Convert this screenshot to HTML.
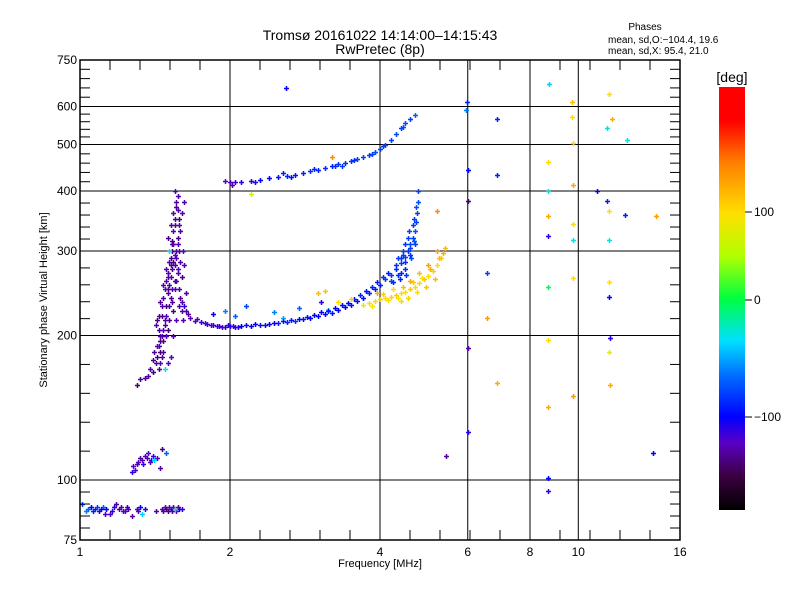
<!DOCTYPE html>
<html><head><meta charset="utf-8"><style>
body{margin:0;background:#fff;}
svg{display:block;font-family:"Liberation Sans",sans-serif;}
</style></head><body>
<svg id="chart" width="800" height="600" viewBox="0 0 800 600" xmlns="http://www.w3.org/2000/svg">
<defs><linearGradient id="cb" x1="0" y1="1" x2="0" y2="0">
<stop offset="0" stop-color="#000000"/><stop offset="0.08" stop-color="#3c0040"/><stop offset="0.16" stop-color="#5a00c8"/><stop offset="0.22" stop-color="#0000ff"/><stop offset="0.32" stop-color="#0070ff"/><stop offset="0.40" stop-color="#00e0ff"/><stop offset="0.50" stop-color="#00ff40"/><stop offset="0.60" stop-color="#b0ff00"/><stop offset="0.70" stop-color="#ffe000"/><stop offset="0.82" stop-color="#ff8000"/><stop offset="0.92" stop-color="#ff0000"/><stop offset="1" stop-color="#ff0000"/>
</linearGradient></defs>
<g id="grid"></g>
<g id="marks"></g>
<rect x="80" y="60" width="600" height="480" fill="none" stroke="#000" stroke-width="1.5"/>
<g id="axes"></g>
<text x="380" y="40" text-anchor="middle" font-size="14">Tromsø 20161022 14:14:00–14:15:43</text>
<text x="380" y="54" text-anchor="middle" font-size="14">RwPretec (8p)</text>
<text x="645" y="30" text-anchor="middle" font-size="10">Phases</text>
<text x="608" y="43" font-size="10">mean, sd,O:−104.4, 19.6</text>
<text x="608" y="54" font-size="10">mean, sd,X:  95.4, 21.0</text>
<text x="380" y="567" text-anchor="middle" font-size="11">Frequency [MHz]</text>
<text transform="translate(47,300) rotate(-90)" text-anchor="middle" font-size="11">Stationary phase Virtual Height [km]</text>
<rect x="719" y="87" width="26" height="423" fill="url(#cb)"/>
<text x="732" y="82" text-anchor="middle" font-size="14">[deg]</text>
<g id="cbl"></g>
</svg>
<script>
const xTickLabels=[1,2,4,6,8,10,16];
const yTickLabels=[75,100,200,300,400,500,600,750];
const cbTicks=[100,0,-100];
// E layer
const eFreq=[1.01,1.03,1.05,1.07,1.09,1.11,1.13,1.15,1.17,1.2,1.22,1.24,1.27,1.3,1.32,1.35,1.42,1.46,1.48,1.5,1.52,1.54,1.56,1.58,1.6,1.04,1.06,1.08,1.1,1.12,1.16,1.18,1.21,1.23,1.25,1.31,1.33,1.47,1.49,1.51,1.53,1.55,1.57];
const eHeight=[89,86,88,87,86,88,87,85,88,87,86,88,84,87,88,87,86,87,88,86,87,88,86,87,87,87,86,88,87,85,86,89,88,86,87,86,85,86,87,88,86,87,88];
const ePhase=[-80,-60,-100,-90,-110,-70,-100,-120,-110,-130,-120,-110,-130,-120,-100,-110,-130,-130,-120,-140,-110,-130,-120,-100,-110,-70,-90,-80,-100,-120,-110,-130,-125,-120,-130,-125,-40,-130,-135,-125,-130,-20,-130];
// sporadic E
const esFreq=[1.27,1.28,1.3,1.31,1.33,1.34,1.36,1.37,1.39,1.4,1.43,1.45,1.46,1.49,1.29,1.32,1.35,1.38,1.41];
const esHeight=[104,107,108,109,110,108,111,114,110,112,111,106,116,114,105,111,112,109,110];
const esPhase=[-110,-120,-130,-125,-120,-110,-130,-120,-110,-110,-120,-130,-140,-70,-120,-130,-125,-120,-40];
// low cusp
const cFreq=[1.3,1.32,1.35,1.37,1.4,1.42,1.43,1.44,1.45,1.46,1.47,1.48,1.49,1.5,1.51,1.52,1.53,1.54,1.55,1.55,1.56,1.57,1.58,1.6,1.62,1.47,1.5,1.52,1.53,1.54,1.55,1.56,1.57,1.52,1.54,1.56,1.58,1.5,1.48,1.45,1.49,1.51,1.53,1.55,1.57,1.46,1.44,1.5];
const cHeight=[158,162,163,165,168,175,180,190,185,200,195,210,220,205,230,240,250,225,260,280,300,320,340,360,380,240,270,290,310,330,350,370,390,180,200,215,230,250,170,200,260,285,300,340,365,220,205,175];
const cPhase=[-140,-130,-135,-130,-140,-130,-135,-130,-140,-130,-135,-130,-120,-140,-130,-130,-125,-135,-130,-130,-125,-135,-130,-130,-130,-130,-130,-135,-130,-125,-130,-135,-130,-120,-130,-125,-130,-135,-30,-130,-125,-130,-135,-130,-125,-135,-130,-120];
const c2Freq=[1.38,1.4,1.41,1.43,1.44,1.45,1.46,1.47,1.48,1.49,1.5,1.51,1.52,1.53,1.54,1.55,1.56,1.57,1.58,1.59,1.6,1.61,1.62,1.63,1.42,1.44,1.46,1.48,1.5,1.52,1.54,1.56,1.58,1.6,1.62,1.45,1.47,1.49,1.51,1.53,1.55,1.57,1.59,1.61,1.5,1.52,1.54,1.56,1.58,1.55,1.57,1.59,1.53,1.51,1.49,1.47,1.45,1.43];
const c2Height=[170,178,185,190,170,195,180,205,215,230,245,255,265,275,285,295,260,275,250,240,225,215,230,245,210,220,230,250,265,280,310,290,300,265,280,175,185,200,215,235,250,270,285,300,320,340,360,380,350,400,310,330,315,300,275,255,235,215];
const c2Phase=[-130,-135,-130,-125,-130,-135,-130,-125,-130,-135,-130,-130,-125,-130,-135,-120,-130,-125,-130,-135,-130,-125,-110,-130,-130,-135,-130,-125,-130,-135,-130,-125,-130,-135,-130,-125,-130,-120,-135,-130,-125,-130,-130,-120,-135,-130,-125,-130,-135,-130,-125,-130,-135,-30,-130,-125,-130,-135];
// F1 O-mode
const oFreq=[1.6,1.63,1.66,1.7,1.75,1.8,1.85,1.9,1.95,2.0,2.05,2.1,2.2,2.3,2.4,2.5,2.6,2.7,2.8,2.9,3.0,3.1,3.2,3.3,3.4,3.5,3.6,3.7,3.8,3.9,4.0,4.1,4.2,4.3,4.4,4.5,4.55,4.6,4.65,4.7,4.72,4.75,4.76,4.77,4.4,4.5,4.6,1.85,1.95,2.05,2.15,2.45,2.75,3.05,3.15,2.55,4.25,4.35,4.45,4.62,4.68];
const oHeight=[235,225,218,214,213,211,210,209,208,209,208,209,209,210,211,212,213,214,216,218,220,222,223,226,229,232,236,240,245,250,255,262,268,275,283,292,300,310,320,330,345,360,380,400,270,285,305,222,225,220,230,224,228,235,226,218,258,268,295,290,315];
const oPhase=[-130,-130,-125,-120,-110,-115,-110,-110,-110,-105,-110,-100,-100,-95,-100,-90,-90,-85,-95,-100,-100,-100,-95,-100,-100,-95,-95,-95,-90,-90,-90,-80,-80,-85,-80,-80,-85,-80,-80,-75,-80,-80,-75,-80,-90,-85,-80,-100,-60,-70,-80,-60,-70,-110,-60,-50,-90,-85,-80,-75,-70];
const o2Freq=[1.65,1.72,1.78,1.83,1.88,1.93,1.98,2.03,2.08,2.15,2.25,2.35,2.45,2.55,2.65,2.75,2.85,2.95,3.05,3.15,3.25,3.35,3.45,3.55,3.65,3.75,3.85,3.95,4.05,4.15,4.2,4.3,4.35,4.4,4.45,4.5,4.55,4.6,4.65,4.7,4.48,4.58,4.68,4.73,4.38,4.52];
const o2Height=[222,216,212,210,209,208,210,209,208,210,211,210,212,214,215,217,219,221,224,225,228,231,234,238,243,248,252,258,265,270,260,280,290,290,300,275,320,295,340,310,310,330,350,370,262,268];
const o2Phase=[-130,-125,-120,-125,-115,-120,-110,-115,-110,-105,-100,-105,-100,-95,-95,-100,-95,-100,-100,-95,-100,-95,-100,-95,-90,-95,-90,-90,-85,-90,-80,-85,-80,-85,-80,-85,-80,-85,-80,-80,-85,-80,-80,-75,-90,-85];
// X-mode
const xFreq=[3.3,3.5,3.7,3.8,3.9,4.0,4.1,4.2,4.3,4.4,4.5,4.6,4.7,4.8,4.9,5.0,5.1,5.2,5.3,5.35,5.4,4.6,4.8,5.0,5.2,3.1,3.0,4.4,4.55,4.75,4.95,5.15,3.95,4.25,4.35,4.45,4.65,4.85,5.05,5.25,4.15,4.05,3.85];
const xHeight=[235,238,232,234,236,238,240,241,243,245,247,250,253,257,262,266,272,280,290,297,305,260,270,280,300,248,245,236,240,246,252,262,245,250,240,252,258,264,275,290,237,244,230];
const xPhase=[100,110,90,95,100,110,100,105,110,100,95,110,100,105,120,100,110,100,110,130,120,130,120,135,140,115,120,105,110,100,115,120,130,100,95,120,110,100,130,120,100,110,90];
// F2 upper
const fFreq=[1.95,2.0,2.05,2.1,2.2,2.3,2.4,2.5,2.6,2.7,2.8,2.9,3.0,3.1,3.2,3.3,3.4,3.5,3.6,3.7,3.8,3.9,4.0,4.1,4.2,4.3,4.4,4.5,4.6,4.7,2.02,2.55,3.35,2.25,2.65,2.95,3.25,3.55,3.85,4.05,4.45];
const fHeight=[420,418,417,417,420,422,425,428,430,433,437,440,442,446,450,455,458,462,466,470,476,482,490,500,510,525,540,555,565,575,412,436,452,418,428,444,452,464,478,496,545];
const fPhase=[-120,-125,-115,-110,-110,-100,-100,-95,-90,-95,-90,-85,-90,-85,-90,-85,-85,-85,-80,-80,-80,-75,-80,-75,-80,-75,-80,-75,-80,-70,-130,-90,-80,-110,-95,-90,-85,-85,-80,-80,-75];
// scattered
const sFreq=[2.59,5.98,5.95,6.87,8.72,9.7,9.7,11.5,11.7,11.4,12.5,8.7,8.7,8.7,8.7,8.7,8.7,8.7,8.7,8.7,6.0,6.0,6.0,6.0,5.43,6.87,6.56,6.56,6.87,9.75,9.75,9.75,9.75,9.75,9.75,10.9,11.4,11.5,11.5,11.5,11.6,11.5,11.6,12.4,14.3,14.1,11.5,5.2,2.2,3.2];
const sHeight=[655,613,590,566,669,613,570,636,565,540,510,460,401,355,323,252,196,142,101,95,443,382,188,126,112,432,270,218,159,503,411,341,317,263,150,401,382,317,258,241,198,185,158,357,355,114,364,364,395,470];
const sPhase=[-100,-90,-60,-90,-40,120,100,100,130,-30,-30,100,-30,130,-110,0,100,130,-100,-110,-100,-140,-130,-110,-130,-90,-80,140,130,100,130,100,-30,100,140,-100,-90,-30,100,-100,-110,80,130,-90,140,-100,100,150,60,150];

const XL=80,XR=680,YT=60,YB=540;
const xs=f=>XL+(XR-XL)*Math.log(f)/Math.log(16);
const ys=h=>YB-(YB-YT)*Math.log(h/75)/Math.log(10);
const NS='http://www.w3.org/2000/svg';
function mk(tag,attrs,parent){const e=document.createElementNS(NS,tag);for(const k in attrs)e.setAttribute(k,attrs[k]);parent.appendChild(e);return e;}
const grid=document.getElementById('grid'),axes=document.getElementById('axes'),marks=document.getElementById('marks'),cbl=document.getElementById('cbl');
[2,4,6,8,10].forEach(v=>{const l=mk('line',{x1:xs(v),x2:xs(v),y1:YT,y2:YB,stroke:'#000','stroke-width':1},grid);

});
[100,200,300,400,500,600].forEach(v=>{const l=mk('line',{x1:XL,x2:XR,y1:ys(v),y2:ys(v),stroke:'#000','stroke-width':1},grid);

});
[1,2,4,8].forEach(a=>{for(let k=1;k<5;k++){const x=xs(a)+(xs(a*2)-xs(a))*k/5;
[[YB,YB-10],[YT,YT+10]].forEach(p=>{const t=mk('line',{x1:x,x2:x,y1:p[0],y2:p[1],stroke:'#000'},axes);

});}});
xTickLabels.forEach(v=>{const t=mk('text',{x:xs(v),y:YB+16,'text-anchor':'middle','font-size':12},axes);t.textContent=v;

});
for(let i=0;i<yTickLabels.length-1;i++){const y0=ys(yTickLabels[i]),y1=ys(yTickLabels[i+1]);for(let k=1;k<5;k++){const y=y0+(y1-y0)*k/5;
[[XL,XL+10],[XR,XR-10]].forEach(p=>{const t=mk('line',{x1:p[0],x2:p[1],y1:y,y2:y,stroke:'#000'},axes);

});}}
yTickLabels.forEach(v=>{const t=mk('text',{x:XL-3,y:ys(v)+4,'text-anchor':'end','font-size':12},axes);t.textContent=v;

});
const cbY=p=>p>=0?300-0.88*p:300-1.17*p;
cbTicks.forEach(v=>{const y=cbY(v);const l=mk('line',{x1:745,x2:752,y1:y,y2:y,stroke:'#000'},cbl);


const t=mk('text',{x:754,y:y+4,'font-size':12},cbl);t.textContent=v<0?'−'+(-v):v;

});
const stops=[[0,[0,0,0]],[0.08,[60,0,64]],[0.16,[90,0,200]],[0.22,[0,0,255]],[0.32,[0,112,255]],[0.40,[0,224,255]],[0.5,[0,255,64]],[0.6,[176,255,0]],[0.7,[255,224,0]],[0.82,[255,128,0]],[0.92,[255,0,0]],[1,[255,0,0]]];
function color(p){let f=(510-cbY(p))/423;f=Math.max(0,Math.min(1,f));
for(let i=1;i<stops.length;i++){if(f<=stops[i][0]){const a=stops[i-1],b=stops[i],t=(f-a[0])/(b[0]-a[0]);
return 'rgb('+a[1].map((c,j)=>Math.round(c+(b[1][j]-c)*t)).join(',')+')';}}return 'red';}
function plot(F,H,P,name){for(let i=0;i<F.length;i++){const x=Math.round(xs(F[i]))+0.5,y=Math.round(ys(H[i]))+0.5;
const m=mk('path',{d:`M${x-2.5} ${y}H${x+2.5}M${x} ${y-2.5}V${y+2.5}`,stroke:color(P[i]),'stroke-width':1.5,fill:'none'},marks);

}}
plot(eFreq,eHeight,ePhase,'e-layer-point');
plot(esFreq,esHeight,esPhase,'sporadic-e-point');
plot(cFreq,cHeight,cPhase,'cusp-point');
plot(c2Freq,c2Height,c2Phase,'cusp-point');
plot(oFreq,oHeight,oPhase,'o-mode-point');
plot(o2Freq,o2Height,o2Phase,'o-mode-point');
plot(xFreq,xHeight,xPhase,'x-mode-point');
plot(fFreq,fHeight,fPhase,'f2-point');
plot(sFreq,sHeight,sPhase,'scatter-point');
</script>
</body></html>
